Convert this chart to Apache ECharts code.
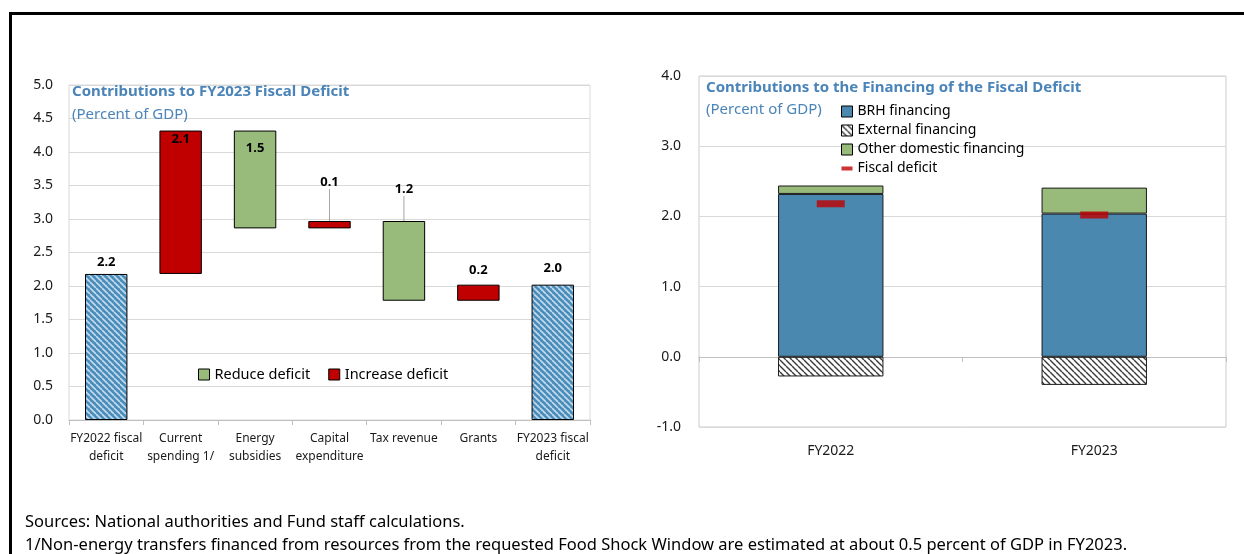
<!DOCTYPE html>
<html>
<head>
<meta charset="utf-8">
<script src="https://cdn.jsdelivr.net/npm/echarts@6/dist/echarts.min.js"></script>
<style>
  html, body { margin: 0; padding: 0; background: #fff; }
  #chart { width: 1244px; height: 554px; }
</style>
</head>
<body>
<div id="chart"></div>
<script>
// ---- Left panel: contributions to the FY2023 fiscal deficit (percent of GDP)
const deficitCategories = ['FY2022 fiscal\ndeficit', 'Current\nspending 1/', 'Energy\nsubsidies',
  'Capital\nexpenditure', 'Tax revenue', 'Grants', 'FY2023 fiscal\ndeficit'];
const deficitFY2022 = 2.18;
const deficitFY2023 = 2.02;
// change in the deficit from each item (positive = increases the deficit)
const deficitContributions = [2.14, -1.46, 0.11, -1.19, 0.24];
const deficitAxisRange = [0, 5];
const deficitAxisStep = 0.5;

// ---- Right panel: financing of the fiscal deficit (percent of GDP)
const financingYears = ['FY2022', 'FY2023'];
const brhFinancing = [2.32, 2.04];
const externalFinancing = [-0.28, -0.40];
const otherDomesticFinancing = [0.12, 0.37];
const fiscalDeficit = [2.18, 2.02];
const financingAxisRange = [-1, 4];
const financingAxisStep = 1;

// ---- styling
const FONT = 'Noto Sans';
const RED = '#c00000';
const GREEN = '#98bb7b';
const BLUE = '#4b88b0';
const HEAD = '#4a84b8';
const GRIDLINE = '#d9d9d9';

function hatch(bg, fg, size, width) {
  const c = document.createElement('canvas');
  c.width = c.height = size;
  const g = c.getContext('2d');
  g.fillStyle = bg;
  g.fillRect(0, 0, size, size);
  g.strokeStyle = fg;
  g.lineWidth = width;
  for (const o of [-size, 0, size]) {
    g.beginPath();
    g.moveTo(o, 0);
    g.lineTo(o + size, size);
    g.stroke();
  }
  return { image: c, repeat: 'repeat' };
}
const deficitHatch = hatch('#4a8cba', '#c4dcee', 6, 1.6);
const externalHatch = hatch('#ffffff', '#3a3a3a', 6, 1.4);

// waterfall: invisible base plus the visible step for each item
const wfBase = [0], wfTotal = [deficitFY2022], wfReduce = ['-'], wfIncrease = ['-'];
let level = deficitFY2022;
deficitContributions.forEach(d => {
  const next = +(level + d).toFixed(2);
  wfBase.push(Math.min(level, next));
  wfTotal.push('-');
  wfReduce.push(d < 0 ? -d : '-');
  wfIncrease.push(d > 0 ? d : '-');
  level = next;
});
wfBase.push(0); wfTotal.push(deficitFY2023); wfReduce.push('-'); wfIncrease.push('-');

// where each value label sits relative to its bar
const labelPlace = [
  { position: 'top', distance: 5 },
  { position: 'insideTop', distance: 2 },
  { position: 'insideTop', distance: 11 },
  { position: 'top', distance: 5, lift: -27 },
  { position: 'top', distance: 5, lift: -20 },
  { position: 'top', distance: 8 },
  { position: 'top', distance: 10 }
];
function withLabels(values) {
  return values.map((v, i) => v === '-' ? '-' : {
    value: v,
    label: { position: labelPlace[i].position, distance: labelPlace[i].distance },
    labelLine: { show: !!labelPlace[i].lift }
  });
}
const valueLabel = {
  show: true,
  formatter: p => p.value.toFixed(1),
  fontFamily: FONT, fontSize: 13, fontWeight: 'bold', color: '#000'
};
const liftLabels = p => labelPlace[p.dataIndex] && labelPlace[p.dataIndex].lift
  ? { dy: labelPlace[p.dataIndex].lift } : {};
const leader = { show: false, lineStyle: { color: '#a6a6a6', width: 1 } };

const textPlain = (text, left, top, extra) => ({
  text, left, top, padding: 0,
  textStyle: Object.assign({ fontFamily: FONT, fontSize: 15, fontWeight: 'normal', color: '#000' }, extra || {})
});

const chart = echarts.init(document.getElementById('chart'), null, { renderer: 'canvas' });
chart.setOption({
  animation: false,
  textStyle: { fontFamily: FONT },
  title: [
    textPlain('Contributions to FY2023 Fiscal Deficit', 72, 84, { fontWeight: 'bold', color: HEAD }),
    textPlain('(Percent of GDP)', 72, 107, { color: HEAD }),
    textPlain('Contributions to the Financing of the Fiscal Deficit', 706, 80, { fontWeight: 'bold', color: HEAD }),
    textPlain('(Percent of GDP)', 706, 102, { color: HEAD }),
    textPlain('Sources: National authorities and Fund staff calculations.', 25, 514, { fontSize: 16.5 }),
    textPlain('1/Non-energy transfers financed from resources from the requested Food Shock Window are estimated at about 0.5 percent of GDP in FY2023.', 25, 537, { fontSize: 16.5 })
  ],
  graphic: [{
    type: 'rect', silent: true, z: 100,
    shape: { x: 10.5, y: 13.5, width: 1400, height: 700 },
    style: { fill: 'none', stroke: '#000', lineWidth: 3 }
  }],
  legend: [{
    data: ['Reduce deficit', 'Increase deficit'],
    left: 198, top: 367, padding: 0,
    icon: 'rect', itemWidth: 11, itemHeight: 11, itemGap: 18,
    itemStyle: { borderColor: '#000', borderWidth: 1 },
    textStyle: { fontFamily: FONT, fontSize: 14.5, color: '#000' }
  }, {
    data: [
      { name: 'BRH financing', icon: 'rect' },
      { name: 'External financing', icon: 'rect' },
      { name: 'Other domestic financing', icon: 'rect' },
      { name: 'Fiscal deficit', icon: 'path://M0,0h0.01v0.01h-0.01z M0,10h0.01v0.01h-0.01z M0,3.2h10v3.6h-10z',
        itemStyle: { borderWidth: 0 } }
    ],
    orient: 'vertical', left: 841, top: 104, padding: 0,
    itemWidth: 11, itemHeight: 11, itemGap: 4,
    itemStyle: { borderColor: '#000', borderWidth: 1 },
    textStyle: { fontFamily: FONT, fontSize: 14, color: '#000', lineHeight: 15 }
  }],
  grid: [
    { left: 69, right: 654, top: 85, bottom: 134, show: true, borderColor: GRIDLINE, borderWidth: 1 },
    { left: 699, right: 18, top: 76, bottom: 127, show: true, borderColor: '#cccccc', borderWidth: 1 }
  ],
  xAxis: [{
    gridIndex: 0, type: 'category', data: deficitCategories,
    axisLine: { lineStyle: { color: '#bfbfbf' } },
    axisTick: { show: true, length: 5, lineStyle: { color: '#bfbfbf' } },
    axisLabel: { fontFamily: FONT, fontSize: 12, color: '#1a1a1a', lineHeight: 18, margin: 10, interval: 0 }
  }, {
    gridIndex: 1, type: 'category', data: financingYears, position: 'bottom',
    axisLine: { show: false, onZero: false },
    axisTick: { show: false },
    axisLabel: { fontFamily: FONT, fontSize: 14, color: '#1a1a1a', margin: 17 }
  }, {
    gridIndex: 1, type: 'category', data: financingYears,
    axisLine: { show: true, onZero: true, lineStyle: { color: '#bfbfbf' } },
    axisTick: { show: true, inside: true, length: 5, lineStyle: { color: '#bfbfbf' } },
    axisLabel: { show: false }
  }],
  yAxis: [{
    gridIndex: 0, type: 'value',
    min: deficitAxisRange[0], max: deficitAxisRange[1], interval: deficitAxisStep,
    axisLine: { show: false }, axisTick: { show: false },
    splitLine: { lineStyle: { color: GRIDLINE } },
    axisLabel: { fontFamily: FONT, fontSize: 14, color: '#1a1a1a', margin: 16, formatter: v => v.toFixed(1) }
  }, {
    gridIndex: 1, type: 'value',
    min: financingAxisRange[0], max: financingAxisRange[1], interval: financingAxisStep,
    axisLine: { show: false }, axisTick: { show: false },
    splitLine: { lineStyle: { color: GRIDLINE } },
    axisLabel: { fontFamily: FONT, fontSize: 14, color: '#1a1a1a', margin: 18, formatter: v => v.toFixed(1) }
  }],
  series: [
    {
      name: 'base', type: 'bar', stack: 'wf', xAxisIndex: 0, yAxisIndex: 0,
      data: wfBase, silent: true, barCategoryGap: '43%',
      itemStyle: { color: 'transparent' }
    },
    {
      name: 'Overall deficit', type: 'bar', stack: 'wf', xAxisIndex: 0, yAxisIndex: 0,
      data: withLabels(wfTotal),
      itemStyle: { color: deficitHatch, borderColor: '#000', borderWidth: 1 },
      label: valueLabel, labelLine: leader
    },
    {
      name: 'Reduce deficit', type: 'bar', stack: 'wf', xAxisIndex: 0, yAxisIndex: 0,
      data: withLabels(wfReduce),
      itemStyle: { color: GREEN, borderColor: '#000', borderWidth: 1 },
      label: valueLabel, labelLine: leader, labelLayout: liftLabels
    },
    {
      name: 'Increase deficit', type: 'bar', stack: 'wf', xAxisIndex: 0, yAxisIndex: 0,
      data: withLabels(wfIncrease),
      itemStyle: { color: RED, borderColor: '#000', borderWidth: 1 },
      label: valueLabel, labelLine: leader, labelLayout: liftLabels
    },
    {
      name: 'BRH financing', type: 'bar', stack: 'fin', xAxisIndex: 1, yAxisIndex: 1,
      data: brhFinancing, barCategoryGap: '60%',
      itemStyle: { color: BLUE, borderColor: '#1a1a1a', borderWidth: 1 }
    },
    {
      name: 'External financing', type: 'bar', stack: 'fin', xAxisIndex: 1, yAxisIndex: 1,
      data: externalFinancing,
      itemStyle: { color: externalHatch, borderColor: '#1a1a1a', borderWidth: 1 }
    },
    {
      name: 'Other domestic financing', type: 'bar', stack: 'fin', xAxisIndex: 1, yAxisIndex: 1,
      data: otherDomesticFinancing,
      itemStyle: { color: GREEN, borderColor: '#1a1a1a', borderWidth: 1 }
    },
    {
      name: 'Fiscal deficit', type: 'scatter', xAxisIndex: 1, yAxisIndex: 1,
      data: fiscalDeficit, symbol: 'rect', symbolSize: [28, 7], z: 5,
      itemStyle: { color: RED }
    }
  ]
});
</script>
</body>
</html>
